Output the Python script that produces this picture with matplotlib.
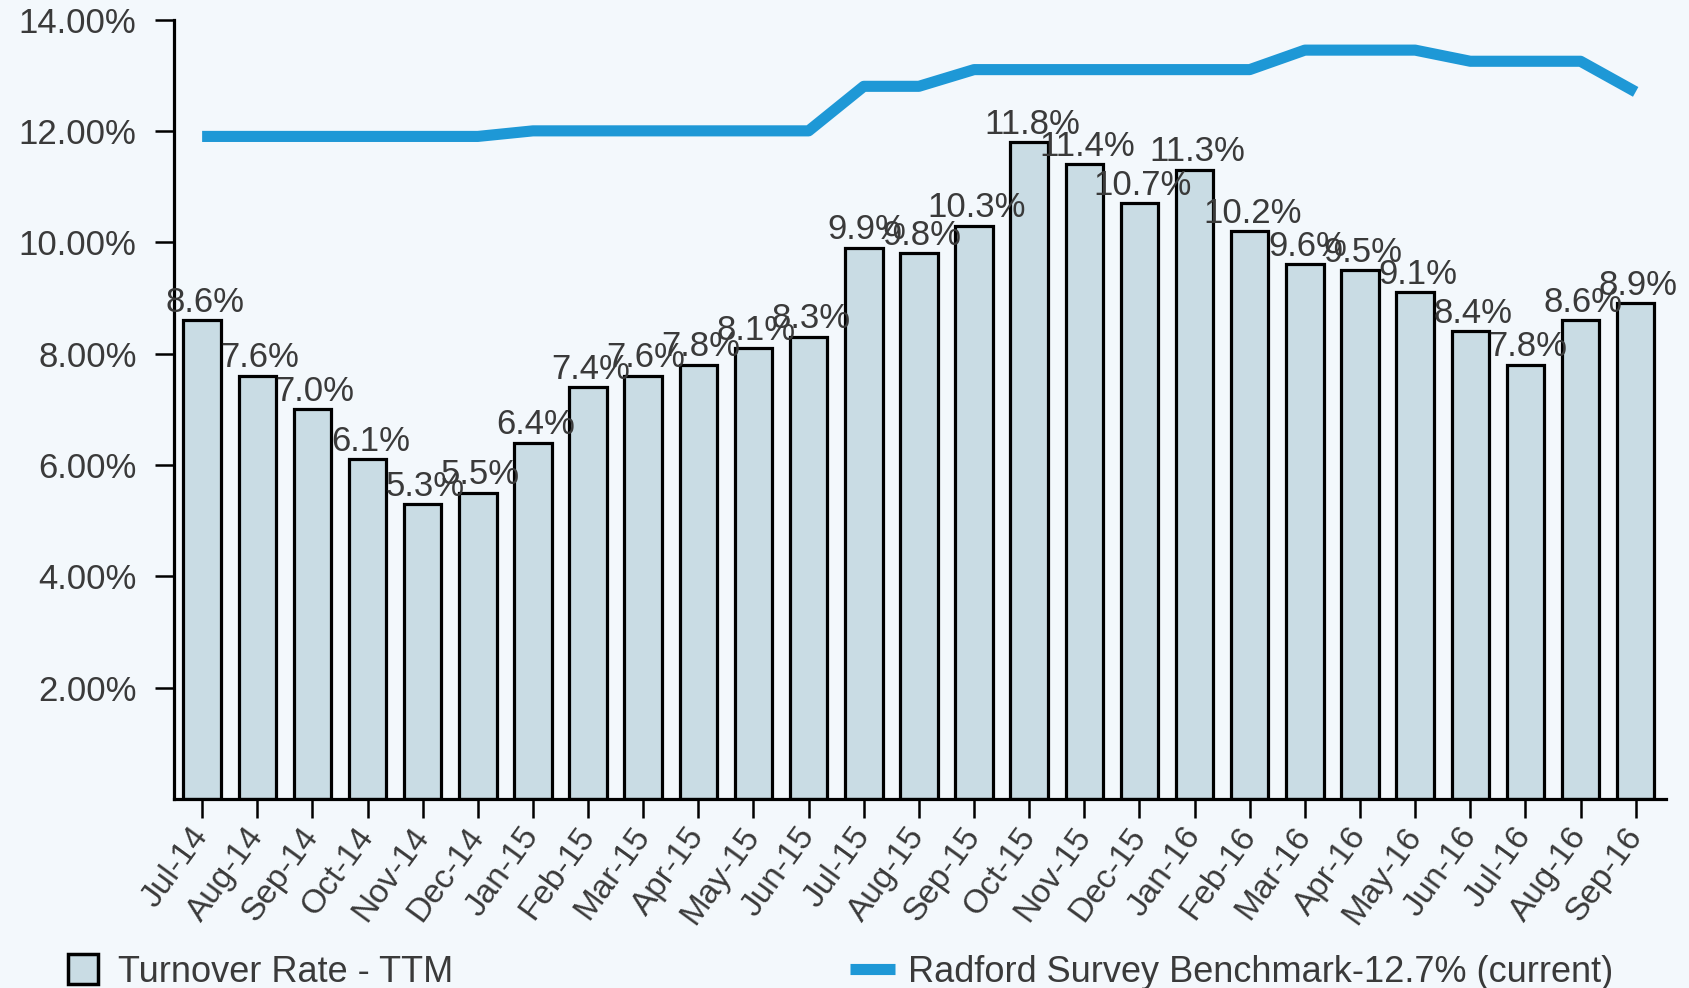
import matplotlib.pyplot as plt
from matplotlib.lines import Line2D

months = ['Jul-14', 'Aug-14', 'Sep-14', 'Oct-14', 'Nov-14', 'Dec-14',
          'Jan-15', 'Feb-15', 'Mar-15', 'Apr-15', 'May-15', 'Jun-15',
          'Jul-15', 'Aug-15', 'Sep-15', 'Oct-15', 'Nov-15', 'Dec-15',
          'Jan-16', 'Feb-16', 'Mar-16', 'Apr-16', 'May-16', 'Jun-16',
          'Jul-16', 'Aug-16', 'Sep-16']
turnover = [8.6, 7.6, 7.0, 6.1, 5.3, 5.5, 6.4, 7.4, 7.6, 7.8, 8.1, 8.3,
            9.9, 9.8, 10.3, 11.8, 11.4, 10.7, 11.3, 10.2, 9.6, 9.5, 9.1,
            8.4, 7.8, 8.6, 8.9]
benchmark = [11.9, 11.9, 11.9, 11.9, 11.9, 11.9, 12.0, 12.0, 12.0, 12.0,
             12.0, 12.0, 12.8, 12.8, 13.1, 13.1, 13.1, 13.1, 13.1, 13.1,
             13.45, 13.45, 13.45, 13.25, 13.25, 13.25, 12.7]
yticks = [2, 4, 6, 8, 10, 12, 14]

bg = '#f3f8fc'
bar_col = '#c9dce4'
line_col = '#1e98d6'
txt = '#3a3a3a'

plt.rcParams['font.family'] = ['Liberation Sans', 'DejaVu Sans']

fig = plt.figure(figsize=(16.89, 9.88), dpi=100, facecolor=bg)
ax = fig.add_axes([174 / 1689, 1 - 799 / 988, (1666 - 174) / 1689, (799 - 19.5) / 988])
ax.set_facecolor(bg)

x = range(len(months))
bars = ax.bar(x, turnover, width=0.68, color=bar_col, edgecolor='black', linewidth=2.3, zorder=2)
ax.plot(x, benchmark, color=line_col, lw=8, solid_capstyle='butt', zorder=3)

# value labels on top of the bars
for b, v in zip(bars, turnover):
    ax.annotate(f'{v:.1f}%', (b.get_x() + b.get_width() / 2, v), xytext=(2, 1),
                textcoords='offset points', ha='center', va='bottom',
                fontsize=25, color=txt, zorder=4)

ax.set_xlim(-0.51, 26.55)
ax.set_ylim(0, 14)
ax.set_yticks(yticks)
ax.set_yticklabels([f'{t:.2f}%' for t in yticks])
ax.set_xticks(list(x))
ax.set_xticklabels(months, rotation=54, ha='right', va='center', rotation_mode='anchor')

for s in ['top', 'right']:
    ax.spines[s].set_visible(False)
for s in ['left', 'bottom']:
    ax.spines[s].set_linewidth(2.3)
ax.tick_params(axis='y', length=14, width=1.8, pad=13, labelsize=25, labelcolor=txt)
ax.tick_params(axis='x', length=14, width=1.8, pad=9, labelsize=24, labelcolor=txt)

handles = [Line2D([], [], marker='s', ls='none', markersize=22, markerfacecolor=bar_col,
                  markeredgecolor='black', markeredgewidth=2.5),
           Line2D([], [], color=line_col, lw=8, solid_capstyle='butt')]
fig.legend(handles, ['Turnover Rate - TTM', 'Radford Survey Benchmark-12.7% (current)'],
           ncol=2, loc='center left', bbox_to_anchor=(60 / 1689, 1 - 972 / 988),
           frameon=False, fontsize=26, labelcolor=txt, borderpad=0, borderaxespad=0,
           handlelength=1.25, handletextpad=0.35, columnspacing=11)

fig.savefig('out.png', dpi=100, facecolor=bg)
